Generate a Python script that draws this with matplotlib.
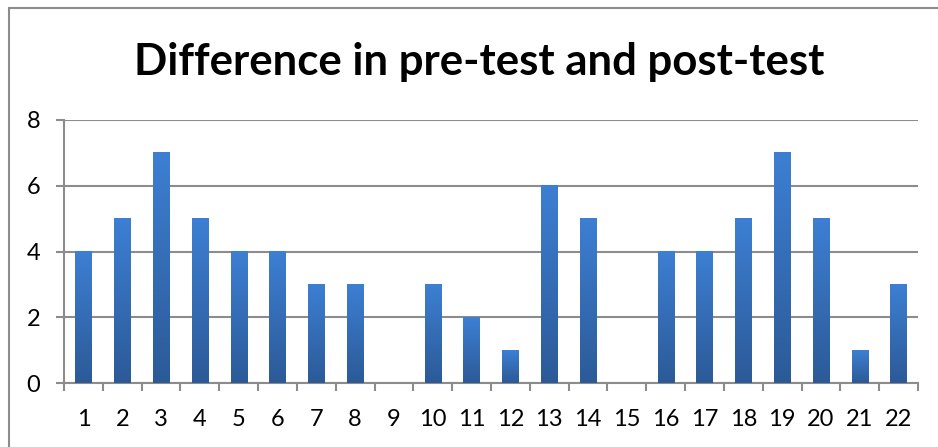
import matplotlib
matplotlib.use("Agg")
import matplotlib.pyplot as plt
import numpy as np
from matplotlib.patches import Rectangle
from matplotlib.colors import LinearSegmentedColormap

categories = [str(i) for i in range(1, 23)]
values = [4, 5, 7, 5, 4, 4, 3, 3, 0, 3, 2, 1, 6, 5, 0, 4, 4, 5, 7, 5, 1, 3]
title = "Difference in pre-test and post-test"
yticks = [0, 2, 4, 6, 8]

plt.rcParams['font.family'] = ['Lato', 'DejaVu Sans']

W, H = 938, 447
fig = plt.figure(figsize=(W / 100, H / 100), dpi=100)
ax = fig.add_axes([64 / W, 1 - 383 / H, (918 - 64) / W, (383 - 120) / H])

# outer chart border
fig.patches.append(Rectangle((9 / W, -0.1), 1.2, 1.1 - 8 / H, transform=fig.transFigure,
                             fill=False, edgecolor='#8c8c8c', linewidth=1.5, zorder=0))

x = np.arange(len(categories))
bars = ax.bar(x, values, width=0.42, color='none', edgecolor='none', zorder=3)
cmap = LinearSegmentedColormap.from_list('g', ['#2c5a97', '#3d7fd3'])
grad = np.linspace(0, 1, 256).reshape(-1, 1)
for b in bars:
    h = b.get_height()
    if h <= 0:
        continue
    ax.imshow(grad, cmap=cmap, origin='lower', aspect='auto',
              extent=(b.get_x(), b.get_x() + b.get_width(), 0, h), zorder=3)

ax.set_xlim(-0.5, len(categories) - 0.5)
ax.set_ylim(0, 8)
ax.set_yticks(yticks)
ax.set_yticklabels([str(t) for t in yticks])
ax.set_xticks(x)
ax.set_xticklabels(categories)
ax.set_xticks(np.arange(-0.5, len(categories)), minor=True)
ax.tick_params(axis='x', which='major', length=0, pad=19, labelsize=17)
ax.tick_params(axis='x', which='minor', length=6, width=1.5, color='#8c8c8c')
ax.tick_params(axis='y', length=6, width=1.5, color='#8c8c8c', pad=11, labelsize=17)
ax.grid(axis='y', color='#8c8c8c', linewidth=1.5, zorder=0)
ax.set_axisbelow(True)
for s in ['top', 'right']:
    ax.spines[s].set_visible(False)
for s in ['left', 'bottom']:
    ax.spines[s].set_color('#8c8c8c')
    ax.spines[s].set_linewidth(1.5)

fig.text(479 / W, 1 - 62 / H, title, ha='center', va='center',
         fontsize=31.5, fontweight='bold')

fig.savefig('out.png', dpi=100)
